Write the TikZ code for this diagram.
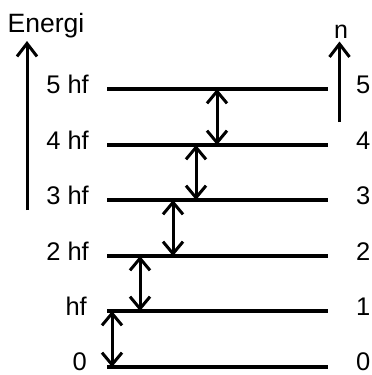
\documentclass[tikz,border=0pt]{standalone}
\usepackage{fontspec}
\setmainfont{Liberation Sans}
\usetikzlibrary{arrows.meta}
\begin{document}
\begin{tikzpicture}[x=1pt,y=-1pt,
  level/.style={line width=3.4pt},
  dbl/.style={line width=3pt,{Straight Barb[length=12pt,width=20pt,line width=3pt]}-{Straight Barb[length=12pt,width=20pt,line width=3pt]}},
  axis/.style={line width=3pt,-{Straight Barb[length=13pt,width=20pt,line width=3pt]}},
  lab/.style={font=\fontsize{25.5}{27}\selectfont,inner sep=0pt}]
\useasboundingbox (0,0) rectangle (372,375);
% levels
\foreach \i/\y in {0/367,1/311,2/256,3/200,4/145,5/89}{
  \coordinate (a\i) at (107,\y);
  \coordinate (b\i) at (328,\y);
  \draw[level] (a\i) -- (b\i);
}
\node[lab,anchor=base east] (l5) at (89,93.5) {5 hf};
\node[lab,anchor=base east] (l4) at (89,149.5) {4 hf};
\node[lab,anchor=base east] (l3) at (89,204.5) {3 hf};
\node[lab,anchor=base east] (l2) at (89,260.5) {2 hf};
\node[lab,anchor=base east] (l1) at (87,315.5) {hf};
\node[lab,anchor=base east] (l0) at (87,370) {0};
\foreach \i/\y in {0/370,1/315.5,2/260.5,3/204.5,4/149.5,5/93.5}{
  \node[lab,anchor=base west] (r\i) at (356,\y) {\i};
}
% transitions
\coordinate (t5) at (217,89);  \coordinate (s4) at (217,145);
\coordinate (t4) at (196,145); \coordinate (s3) at (196,200);
\coordinate (t3) at (173,200); \coordinate (s2) at (173,256);
\coordinate (t2) at (140,256); \coordinate (s1) at (140,311);
\coordinate (t1) at (112,311); \coordinate (s0) at (112,367);
\draw[dbl] (t5) -- (s4);
\draw[dbl] (t4) -- (s3);
\draw[dbl] (t3) -- (s2);
\draw[dbl] (t2) -- (s1);
\draw[dbl] (t1) -- (s0);
% axes
\coordinate (e0) at (27,210); \coordinate (e1) at (27,41);
\draw[axis] (e0) -- (e1);
\node[font=\fontsize{26.5}{28}\selectfont,inner sep=0pt,anchor=base west] (energi) at (7.5,32.5) {Energi};
\coordinate (n0) at (339.5,122); \coordinate (n1) at (339.5,41.5);
\draw[axis,line width=3.3pt] (n0) -- (n1);
\node[font=\fontsize{25}{27}\selectfont,inner sep=0pt,anchor=base] (nlab) at (341,38) {n};
\end{tikzpicture}
\end{document}
